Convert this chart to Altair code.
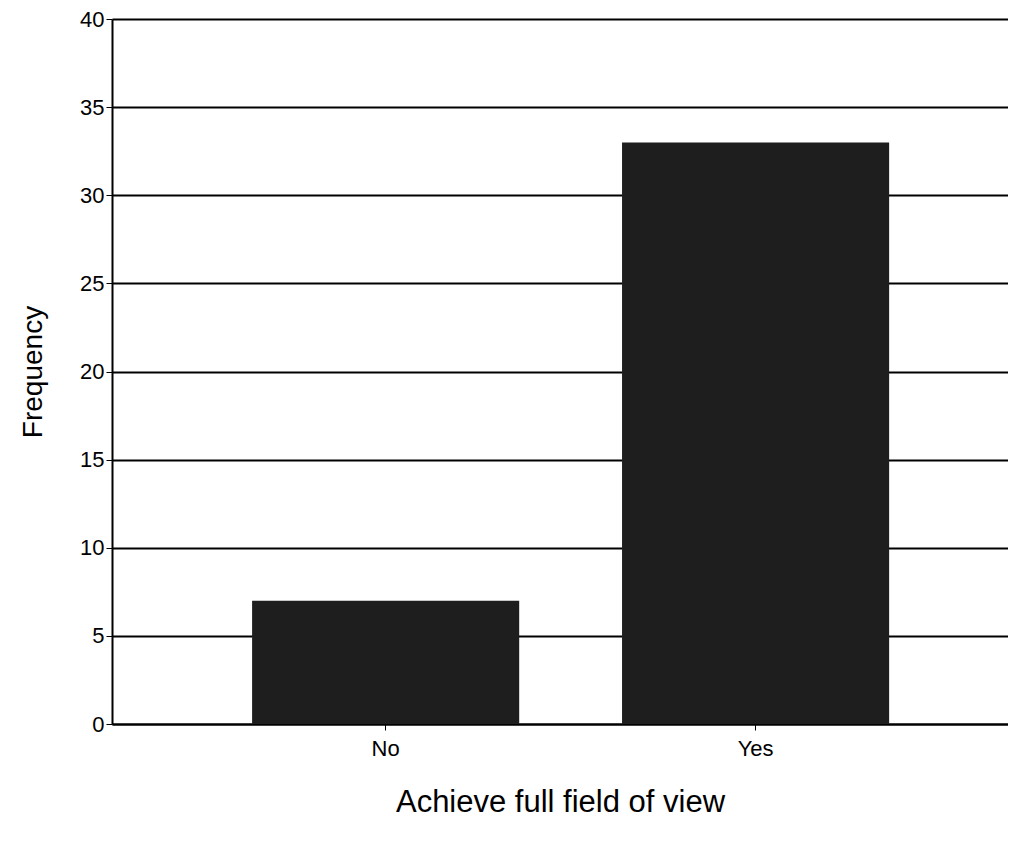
import altair as alt
import pandas as pd

categories = ["No", "Yes"]
frequency = [7, 33]

df = pd.DataFrame({"answer": categories, "freq": frequency})

FONT = "Liberation Sans"

chart = alt.Chart(df).mark_bar(color="#1e1e1e").encode(
    x=alt.X("answer:N", sort=categories,
            scale=alt.Scale(paddingInner=0.278, paddingOuter=0.35, align=0.541),
            axis=alt.Axis(title="Achieve full field of view", labelAngle=0,
                          labelFontSize=22, titleFontSize=31, titleFontWeight="normal",
                          labelFont=FONT, titleFont=FONT, labelColor="black", titleColor="black",
                          domainColor="black", domainWidth=2, tickColor="black", tickSize=6,
                          labelPadding=8, titlePadding=28, grid=False)),
    y=alt.Y("freq:Q", scale=alt.Scale(domain=[0, 40]),
            axis=alt.Axis(title="Frequency", values=[0, 5, 10, 15, 20, 25, 30, 35, 40],
                          labelFontSize=22, titleFontSize=28, titleFontWeight="normal",
                          labelFont=FONT, titleFont=FONT, labelColor="black", titleColor="black",
                          domainColor="black", domainWidth=2, tickColor="black", tickSize=6,
                          labelPadding=2, titlePadding=32, grid=True, gridColor="black",
                          gridWidth=2)),
).properties(
    width=896, height=705,
    autosize=alt.AutoSizeParams(type="none"),
    padding={"left": 104, "top": 11, "right": 0, "bottom": 110},
).configure_view(stroke=None)

chart.save("out.html", embed_options={"renderer": "svg", "actions": False})
